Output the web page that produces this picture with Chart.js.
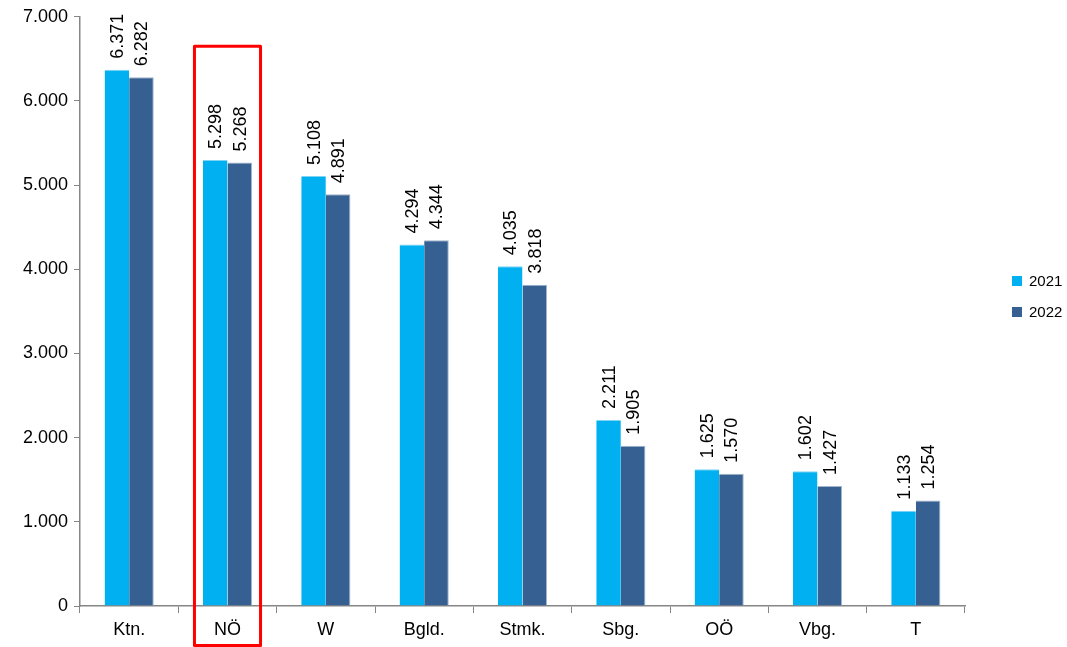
<!DOCTYPE html>
<html lang="de">
<head>
    <meta charset="UTF-8">
    <title>Bundesländer 2021 / 2022</title>
    <script src="https://cdn.jsdelivr.net/npm/chart.js"></script>
    <style>
        html, body { margin: 0; padding: 0; background: #fff; }
        #wrap { width: 1067px; height: 647px; }
    </style>
</head>
<body>
    <div id="wrap">
        <canvas id="chart" width="1067" height="647"></canvas>
    </div>

    <script>
        // Daten
        const laender = ['Ktn.', 'NÖ', 'W', 'Bgld.', 'Stmk.', 'Sbg.', 'OÖ', 'Vbg.', 'T'];
        const werte2021 = [6371, 5298, 5108, 4294, 4035, 2211, 1625, 1602, 1133];
        const werte2022 = [6282, 5268, 4891, 4344, 3818, 1905, 1570, 1427, 1254];
        const yTicks = [0, 1000, 2000, 3000, 4000, 5000, 6000, 7000];
        const markiert = 'NÖ';

        const schrift = '"Liberation Sans", Arial, sans-serif';

        // Zahl mit Tausenderpunkt
        function fmt(v) {
            return String(Math.round(v)).replace(/\B(?=(\d{3})+(?!\d))/g, '.');
        }

        // Werte senkrecht über die Balken schreiben
        const wertLabels = {
            id: 'wertLabels',
            afterDatasetsDraw(chart) {
                const ctx = chart.ctx;
                ctx.save();
                ctx.font = '18px ' + schrift;
                ctx.fillStyle = '#000';
                ctx.textAlign = 'left';
                ctx.textBaseline = 'middle';
                chart.data.datasets.forEach((ds, i) => {
                    chart.getDatasetMeta(i).data.forEach((bar, j) => {
                        ctx.save();
                        ctx.translate(bar.x + 1, bar.y - 11);
                        ctx.rotate(-Math.PI / 2);
                        ctx.fillText(fmt(ds.data[j]), 0, 0);
                        ctx.restore();
                    });
                });
                ctx.restore();
            }
        };

        // Legende rechts neben dem Diagramm
        const legende = {
            id: 'legende',
            afterDraw(chart) {
                const ctx = chart.ctx;
                ctx.save();
                ctx.font = '15px ' + schrift;
                ctx.textBaseline = 'middle';
                chart.data.datasets.forEach((ds, i) => {
                    const y = 281 + i * 31;
                    ctx.fillStyle = ds.backgroundColor;
                    ctx.fillRect(1012, y - 5, 10, 10);
                    ctx.fillStyle = '#000';
                    ctx.fillText(ds.label, 1029, y + 1);
                });
                ctx.restore();
            }
        };

        // roter Rahmen um NÖ
        const rahmen = {
            id: 'rahmen',
            afterDraw(chart) {
                const x = chart.scales.x, y = chart.scales.y;
                const idx = laender.indexOf(markiert);
                const cw = x.getPixelForValue(1) - x.getPixelForValue(0);
                const cx = x.getPixelForValue(idx);
                const left = cx - cw * 0.336;
                const right = cx + cw * 0.336;
                const top = y.getPixelForValue(6650);
                const bottom = chart.height - 1.5;
                const ctx = chart.ctx;
                ctx.save();
                ctx.strokeStyle = '#ff0000';
                ctx.lineWidth = 3;
                ctx.lineJoin = 'round';
                ctx.strokeRect(left, top, right - left, bottom - top);
                ctx.restore();
            }
        };

        const ctx = document.getElementById('chart').getContext('2d');
        new Chart(ctx, {
            type: 'bar',
            data: {
                labels: laender,
                datasets: [{
                    label: '2021',
                    data: werte2021,
                    backgroundColor: '#00b0f0',
                    borderColor: '#7fd4f5',
                    borderWidth: { top: 1, left: 0, right: 0, bottom: 0 },
                    categoryPercentage: 0.5,
                    barPercentage: 1
                }, {
                    label: '2022',
                    data: werte2022,
                    backgroundColor: '#376092',
                    borderColor: '#a3b5cc',
                    borderWidth: { top: 1, left: 0, right: 1, bottom: 0 },
                    categoryPercentage: 0.5,
                    barPercentage: 1
                }]
            },
            options: {
                responsive: false,
                animation: false,
                layout: { padding: { top: 15, right: 102, left: 0, bottom: 0 } },
                plugins: {
                    tooltip: { enabled: false },
                    legend: { display: false }
                },
                scales: {
                    x: {
                        afterFit(scale) { scale.height = 41; },
                        grid: { drawOnChartArea: false, tickLength: 7, color: '#868686', offset: true },
                        border: { color: '#868686', width: 1.5 },
                        ticks: {
                            color: '#000',
                            padding: 6,
                            font: { size: 18, family: schrift }
                        }
                    },
                    y: {
                        min: 0,
                        max: 7000,
                        afterBuildTicks(scale) {
                            scale.ticks = yTicks.map(v => ({ value: v }));
                        },
                        afterFit(scale) { scale.width = 80; },
                        grid: { drawOnChartArea: false, tickLength: 6, color: '#868686' },
                        border: { color: '#868686', width: 1.5 },
                        ticks: {
                            color: '#000',
                            padding: 6,
                            font: { size: 18, family: schrift },
                            callback: v => fmt(v)
                        }
                    }
                }
            },
            plugins: [wertLabels, legende, rahmen]
        });
    </script>
</body>
</html>
